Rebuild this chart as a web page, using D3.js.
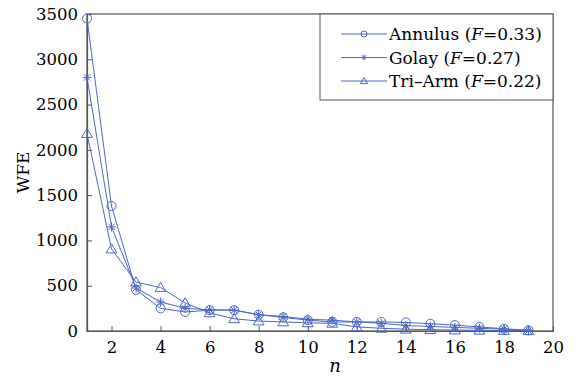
<!DOCTYPE html>
<html><head><meta charset="utf-8">
<script src="https://cdn.jsdelivr.net/npm/d3@7"></script>
<style>html,body{margin:0;padding:0;background:#fff;}svg{display:block;}</style>
</head><body>
<script>
const nValues = [1,2,3,4,5,6,7,8,9,10,11,12,13,14,15,16,17,18,19];
const annulus = [3450,1380,455,250,210,230,230,180,150,120,100,100,100,95,80,65,45,25,8];
const golay   = [2800,1150,475,320,250,235,230,180,160,130,120,100,85,60,50,40,30,20,5];
const triArm  = [2180,905,540,480,310,200,135,110,100,90,85,45,30,20,15,10,8,5,3];
const seriesNames = ["Annulus", "Golay", "Tri\u2013Arm"];
const seriesF = ["0.33", "0.27", "0.22"];
const xTicks = [2,4,6,8,10,12,14,16,18,20];
const yTicks = [0,500,1000,1500,2000,2500,3000,3500];

const W = 583, H = 378;
const m = {l:87, r:30, t:14, b:47};
const color = "#4d67c6";
const font = "DejaVu Serif";

const svg = d3.select("body").append("svg").attr("width", W).attr("height", H);
const x = d3.scaleLinear().domain([1,20]).range([m.l, W - m.r]);
const y = d3.scaleLinear().domain([0,3500]).range([H - m.b, m.t]);

const axisColor = "#555";
svg.append("rect").attr("x", m.l).attr("y", m.t).attr("width", W - m.r - m.l).attr("height", H - m.b - m.t)
  .attr("fill", "none").attr("stroke", axisColor).attr("stroke-width", 1.2);

const xAxis = svg.append("g").attr("transform", `translate(0,${H - m.b})`)
  .call(d3.axisBottom(x).tickValues(xTicks).tickSize(-5).tickPadding(10).tickFormat(d3.format("d")));
const yAxis = svg.append("g").attr("transform", `translate(${m.l},0)`)
  .call(d3.axisLeft(y).tickValues(yTicks).tickSize(-5).tickPadding(9).tickFormat(d3.format("d")));
[xAxis, yAxis].forEach(g => {
  g.select(".domain").attr("stroke", axisColor).attr("stroke-width", 1.2);
  g.selectAll(".tick line").attr("stroke", axisColor);
  g.selectAll("text").attr("fill", "#000").style("font-family", font).style("font-size", "16.5px");
});

svg.append("text").attr("x", 335).attr("y", 372).attr("text-anchor", "middle")
  .style("font-family", font).style("font-style", "italic").style("font-size", "18px").attr("fill", "#000").text("n");
svg.append("text").attr("transform", `translate(29,${(m.t + H - m.b)/2}) rotate(-90)`).attr("text-anchor", "middle")
  .style("font-family", font).style("font-size", "17px").attr("fill", "#000").text("WFE");

const all = [annulus, golay, triArm];
const markerTypes = ["circle", "star", "triangle"];

function drawMarker(g, type, cx, cy, s) {
  if (type === "circle") {
    g.append("circle").attr("cx", cx).attr("cy", cy).attr("r", s)
      .attr("fill", "none").attr("stroke", color).attr("stroke-width", 1);
  } else if (type === "star") {
    const p = d3.path();
    for (let k = 0; k < 4; k++) {
      const a = k * Math.PI / 4;
      p.moveTo(cx - s*Math.sin(a), cy - s*Math.cos(a));
      p.lineTo(cx + s*Math.sin(a), cy + s*Math.cos(a));
    }
    g.append("path").attr("d", p.toString()).attr("stroke", color).attr("stroke-width", 1).attr("fill", "none");
  } else {
    const h = s * 1.15;
    g.append("path").attr("d", `M${cx},${cy - h}L${cx + s*1.2},${cy + h*0.75}L${cx - s*1.2},${cy + h*0.75}Z`)
      .attr("fill", "none").attr("stroke", color).attr("stroke-width", 1);
  }
}

const line = d3.line().x((d,i) => x(nValues[i])).y(d => y(d));
all.forEach((vals, si) => {
  const g = svg.append("g");
  g.append("path").datum(vals).attr("d", line).attr("fill", "none").attr("stroke", color).attr("stroke-width", 1);
  vals.forEach((v, i) => drawMarker(g, markerTypes[si], x(nValues[i]), y(v), 4.5));
});

const lg = svg.append("g");
const lx0 = 320, ly0 = m.t, lx1 = W - m.r, ly1 = 100;
lg.append("rect").attr("x", lx0).attr("y", ly0).attr("width", lx1 - lx0).attr("height", ly1 - ly0)
  .attr("fill", "#fff").attr("stroke", axisColor).attr("stroke-width", 1);
seriesNames.forEach((name, i) => {
  const yy = 34 + i * 23.5;
  lg.append("line").attr("x1", 341).attr("x2", 387).attr("y1", yy).attr("y2", yy).attr("stroke", color).attr("stroke-width", 1);
  drawMarker(lg, markerTypes[i], 364, yy, 3);
  const t = lg.append("text").attr("x", 389).attr("y", yy + 6).style("font-family", font).style("font-size", "17px").attr("fill", "#000");
  t.append("tspan").text(name + " (");
  t.append("tspan").style("font-style", "italic").text("F");
  t.append("tspan").text("=" + seriesF[i] + ")");
});
</script>
</body></html>
